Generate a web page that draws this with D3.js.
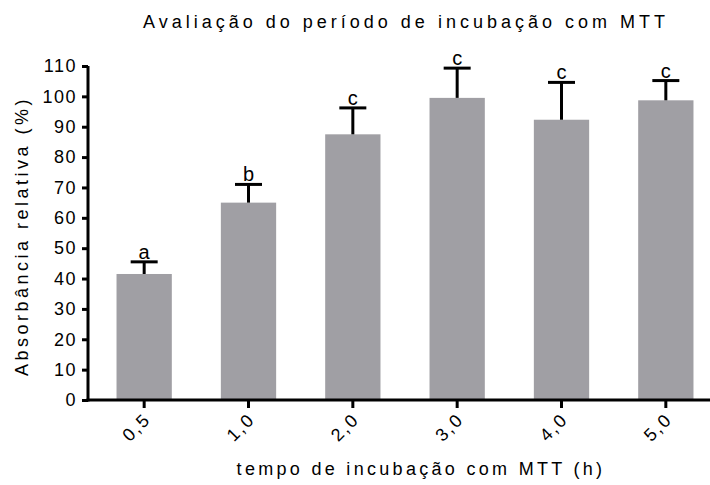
<!DOCTYPE html>
<html>
<head>
<meta charset="utf-8">
<script src="https://cdn.jsdelivr.net/npm/d3@7"></script>
<style>
  body { margin: 0; background: #fff; }
  svg { display: block; }
  text { font-family: "Liberation Sans", Arial, sans-serif; fill: #000; }
</style>
</head>
<body>
<svg id="chart" width="710" height="485"></svg>
<script>
const categories = ["0,5", "1,0", "2,0", "3,0", "4,0", "5,0"];
const means = [41.5, 65, 87.5, 99.5, 92.3, 98.7];
const errors = [4, 6, 8.7, 9.8, 12.3, 6.5];
const letters = ["a", "b", "c", "c", "c", "c"];
const yTicks = [0, 10, 20, 30, 40, 50, 60, 70, 80, 90, 100, 110];

const svg = d3.select("#chart");
const mLeft = 88, mBottom = 400, mTop = 66;
const FONT = "Liberation Sans, Arial, sans-serif";

const x = d3.scaleBand().domain(categories).range([92, 718]).paddingInner(0.47).paddingOuter(0.235);
const y = d3.scaleLinear().domain([0, 110]).range([mBottom, mTop]);

// bars
svg.append("g").selectAll("rect").data(categories).join("rect")
  .attr("x", d => x(d)).attr("width", x.bandwidth())
  .attr("y", (d, i) => y(means[i])).attr("height", (d, i) => y(0) - y(means[i]))
  .attr("fill", "#a09fa4");

// error bars
const eb = svg.append("g").attr("stroke", "#000").attr("stroke-width", 3);
categories.forEach((d, i) => {
  const cx = x(d) + x.bandwidth() / 2;
  eb.append("line").attr("x1", cx).attr("x2", cx).attr("y1", y(means[i])).attr("y2", y(means[i] + errors[i]));
  eb.append("line").attr("x1", cx - 13.5).attr("x2", cx + 13.5).attr("y1", y(means[i] + errors[i])).attr("y2", y(means[i] + errors[i]));
});

// letters
svg.append("g").selectAll("text").data(categories).join("text")
  .attr("x", d => x(d) + x.bandwidth() / 2)
  .attr("y", (d, i) => y(means[i] + errors[i]) - 3)
  .attr("text-anchor", "middle").attr("font-size", 20)
  .text((d, i) => letters[i]);

// y axis
const yAxis = svg.append("g").attr("transform", `translate(${mLeft},0)`)
  .call(d3.axisLeft(y).tickValues(yTicks).tickSize(6).tickPadding(5).tickSizeOuter(0));
yAxis.select(".domain").attr("stroke-width", 3).attr("d", `M0,${mBottom + 1.5}V${mTop}`);
yAxis.selectAll(".tick line").attr("stroke-width", 3);
yAxis.selectAll(".tick text").attr("font-size", 18).attr("font-family", FONT).attr("letter-spacing", 1.5);

// x axis
const xAxis = svg.append("g").attr("transform", `translate(0,${mBottom})`)
  .call(d3.axisBottom(x).tickSize(8).tickSizeOuter(0));
xAxis.select(".domain").attr("stroke-width", 3).attr("d", `M${mLeft - 1.5},0H710`);
xAxis.selectAll(".tick line").attr("stroke-width", 3);
xAxis.selectAll(".tick text")
  .attr("font-size", 18).attr("font-family", FONT)
  .attr("letter-spacing", 2)
  .attr("text-anchor", "end")
  .attr("transform", "translate(3,16) rotate(-45)")
  .attr("y", 0).attr("dy", "0.35em").attr("x", 0);

// title
svg.append("text").attr("x", 406).attr("y", 28).attr("text-anchor", "middle")
  .attr("font-size", 18).attr("letter-spacing", 4)
  .text("Avaliação do período de incubação com MTT");

// x label
svg.append("text").attr("x", 421).attr("y", 475).attr("text-anchor", "middle")
  .attr("font-size", 18).attr("letter-spacing", 3.3)
  .text("tempo de incubação com MTT (h)");

// y label
svg.append("text").attr("transform", "translate(28,236) rotate(-90)").attr("text-anchor", "middle")
  .attr("font-size", 18).attr("letter-spacing", 3.5)
  .text("Absorbância relativa (%)");
</script>
</body>
</html>
